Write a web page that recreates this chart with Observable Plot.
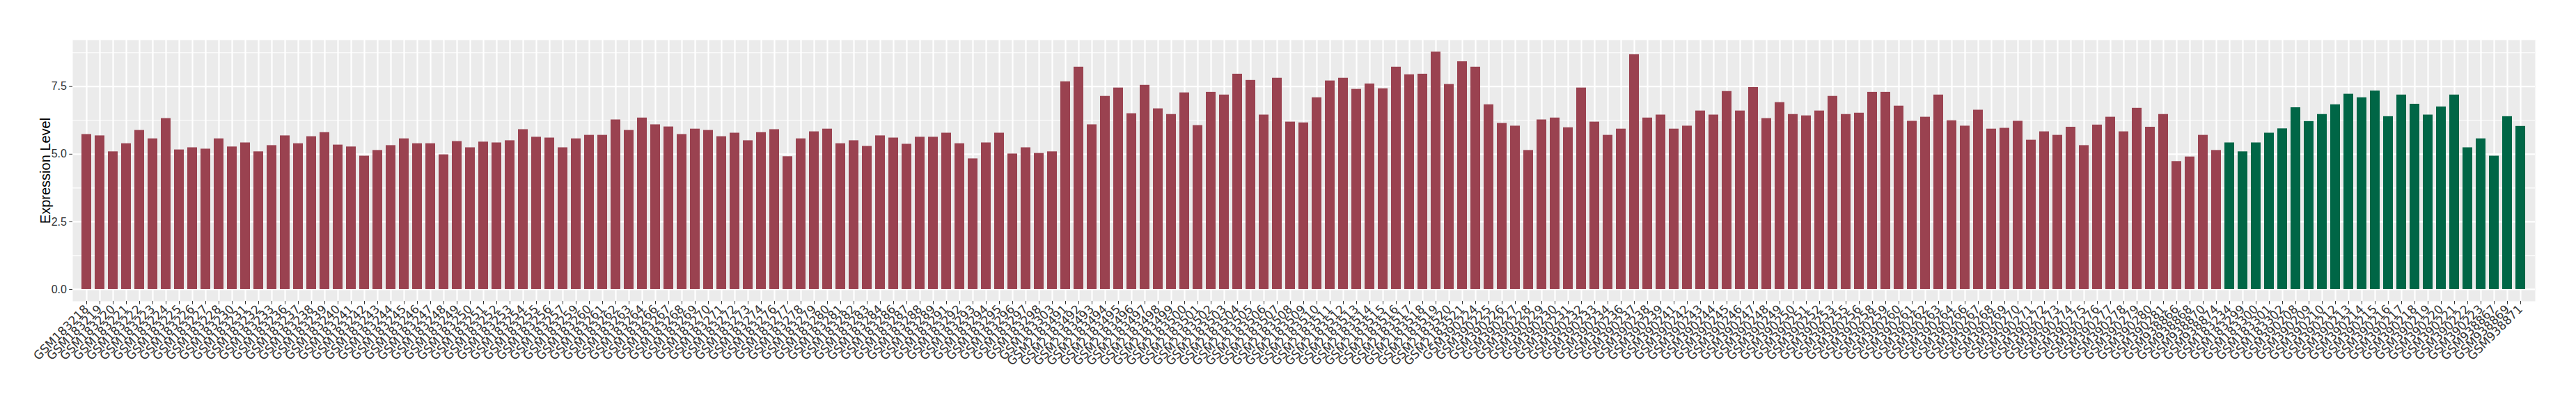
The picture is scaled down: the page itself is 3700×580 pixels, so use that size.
<!DOCTYPE html>
<html>
<head>
<meta charset="utf-8">
<script src="https://cdn.jsdelivr.net/npm/d3@7"></script>
<script src="https://cdn.jsdelivr.net/npm/@observablehq/plot@0.6"></script>
<style>
  html, body { margin: 0; padding: 0; background: #ffffff; }
  #chart { width: 3700px; height: 580px; }
</style>
</head>
<body>
<div id="chart"></div>
<script>
// ---- data ----
const redSamples = [
  "GSM183218","GSM183219","GSM183220","GSM183221","GSM183222","GSM183223","GSM183224","GSM183225","GSM183226","GSM183227","GSM183228",
  "GSM183230","GSM183231","GSM183232","GSM183233",
  "GSM183236","GSM183237","GSM183238","GSM183239","GSM183240","GSM183241","GSM183242","GSM183243","GSM183244","GSM183245","GSM183246",
  "GSM183247","GSM183248","GSM183249","GSM183250","GSM183251","GSM183252","GSM183253","GSM183254","GSM183255","GSM183256","GSM183257",
  "GSM183259","GSM183260","GSM183261","GSM183262","GSM183263","GSM183264",
  "GSM183266","GSM183267","GSM183268","GSM183269","GSM183270","GSM183271","GSM183272","GSM183273","GSM183274",
  "GSM183276","GSM183277","GSM183278","GSM183279","GSM183280","GSM183281","GSM183282","GSM183283","GSM183284",
  "GSM183286","GSM183287","GSM183288","GSM183289",
  "GSM183291","GSM183292","GSM183293","GSM183294","GSM183295","GSM183296","GSM183297","GSM183298","GSM183303",
  "GSM2183491","GSM2183492","GSM2183493","GSM2183494","GSM2183495","GSM2183496","GSM2183497","GSM2183498","GSM2183499","GSM2183500",
  "GSM2183501","GSM2183502","GSM2183503","GSM2183504","GSM2183505","GSM2183506","GSM2183507","GSM2183508","GSM2183509","GSM2183510",
  "GSM2183511","GSM2183512","GSM2183513","GSM2183514","GSM2183515","GSM2183516","GSM2183517","GSM2183518","GSM2183519","GSM2183520","GSM2183521",
  "GSM390224","GSM390225","GSM390226","GSM390227","GSM390228","GSM390229","GSM390230","GSM390231","GSM390232","GSM390233","GSM390234",
  "GSM390236","GSM390237","GSM390238","GSM390239",
  "GSM390241","GSM390242","GSM390243","GSM390244","GSM390245","GSM390246","GSM390247","GSM390248","GSM390249","GSM390250","GSM390251","GSM390252","GSM390253",
  "GSM390255","GSM390256",
  "GSM390258","GSM390259","GSM390260","GSM390261","GSM390262","GSM390263","GSM390264",
  "GSM390266","GSM390267","GSM390268","GSM390269","GSM390270","GSM390271","GSM390272","GSM390273","GSM390274","GSM390275","GSM390276",
  "GSM390277","GSM390278","GSM390279","GSM390280","GSM390281",
  "GSM938866","GSM938868","GSM938870","GSM938874"
];
const redValues = [
  5.73, 5.68, 5.09, 5.39, 5.88, 5.57, 6.32, 5.16, 5.24, 5.19, 5.57, 5.27, 5.42, 5.09, 5.32, 5.68, 5.39, 5.65, 5.80, 5.34,
  5.27, 4.93, 5.14, 5.32, 5.57, 5.39, 5.39, 4.98, 5.47, 5.24, 5.45, 5.42, 5.50, 5.91, 5.63, 5.60, 5.24,
  5.57, 5.70, 5.70, 6.27, 5.88, 6.34, 6.09, 6.01, 5.73, 5.93, 5.88, 5.65, 5.78, 5.50, 5.80, 5.91, 4.91, 5.57, 5.83, 5.93,
  5.39, 5.50, 5.29, 5.68, 5.60, 5.37, 5.63, 5.63, 5.78, 5.39, 4.83, 5.42, 5.78, 5.01, 5.24, 5.03, 5.09,
  7.68, 8.22, 6.09, 7.14, 7.45, 6.50, 7.55, 6.68, 6.47, 7.27, 6.06, 7.29, 7.19, 7.96, 7.73, 6.45, 7.81, 6.19, 6.16, 7.09,
  7.71, 7.81, 7.40, 7.60, 7.42, 8.22, 7.94, 7.96, 8.78, 7.58, 8.42, 8.22, 6.83, 6.14, 6.04, 5.14, 6.27,
  6.34, 5.98, 7.45, 6.19, 5.70, 5.93, 8.68, 6.34, 6.45, 5.93, 6.04, 6.60, 6.45, 7.32, 6.60, 7.47, 6.32, 6.91, 6.47, 6.42,
  6.60, 7.14, 6.47, 6.52, 7.29, 7.29, 6.78, 6.22, 6.37, 7.19, 6.24, 6.04, 6.63, 5.93, 5.96, 6.22, 5.52, 5.83,
  5.70, 6.00, 5.32, 6.08, 6.37, 5.83, 6.70, 6.00, 6.47, 4.73, 4.90, 5.70, 5.14
];
const greenSamples = [
  "GSM183234","GSM183299","GSM183300","GSM183301","GSM183302",
  "GSM390208","GSM390209","GSM390210","GSM390212","GSM390213","GSM390214","GSM390215","GSM390216","GSM390217","GSM390218",
  "GSM390219","GSM390220","GSM390221","GSM390222","GSM390223",
  "GSM938867","GSM938869","GSM938871"
];
const greenValues = [
  5.42, 5.09, 5.42, 5.78, 5.94, 6.72, 6.21, 6.47, 6.83, 7.22, 7.09, 7.34, 6.39, 7.19, 6.85,
  6.45, 6.75, 7.19, 5.24, 5.57, 4.93, 6.39, 6.03
];
const yMajorTicks = [0, 2.5, 5, 7.5];
const yMinorTicks = [1.25, 3.75, 6.25, 8.75];
const yTitle = "Expression Level";

// ---- build ----
const redData = redSamples.map((s, i) => ({sample: s, value: redValues[i]}));
const greenData = greenSamples.map((s, i) => ({sample: s, value: greenValues[i]}));
const allSamples = [...redSamples, ...greenSamples];
const maxV = d3.max([...redValues, ...greenValues]);

const fontFamily = "'Liberation Sans', Arial, Helvetica, sans-serif";

const chart = Plot.plot({
  width: 3700,
  height: 580,
  marginLeft: 104,
  marginRight: 59,
  marginTop: 57,
  marginBottom: 148,
  style: {background: "#ffffff", fontFamily, color: "#4D4D4D", overflow: "visible"},
  x: {type: "band", domain: allSamples, paddingInner: 0.26, paddingOuter: 0.23, axis: null},
  y: {domain: [-0.05 * maxV, 1.05 * maxV], axis: null},
  marks: [
    Plot.frame({fill: "#EBEBEB", stroke: "none"}),
    Plot.gridY(yMinorTicks, {stroke: "#ffffff", strokeOpacity: 1, strokeWidth: 1.1}),
    Plot.gridY(yMajorTicks, {stroke: "#ffffff", strokeOpacity: 1, strokeWidth: 2.2}),
    Plot.gridX({stroke: "#ffffff", strokeOpacity: 1, strokeWidth: 2.2}),
    Plot.barY(redData, {x: "sample", y: "value", fill: "#9A4250"}),
    Plot.barY(greenData, {x: "sample", y: "value", fill: "#006646"}),
    Plot.axisY(yMajorTicks, {
      tickFormat: d => d.toFixed(1), tickSize: 4.75, tickPadding: 3.8,
      fontSize: 16, label: null, stroke: "#333333", fill: "#333333"
    }),
    Plot.axisX({
      tickRotate: -45, tickSize: 4.75, tickPadding: 3.8,
      fontSize: 17, fontFamily: "'DejaVu Sans', sans-serif",
      label: null, stroke: "#333333", fill: "#333333"
    }),
    Plot.text([yTitle], {
      frameAnchor: "left", textAnchor: "middle", rotate: -90, dx: -39, fontSize: 20,
      fill: "#000000", text: d => d
    })
  ]
});
document.getElementById("chart").appendChild(chart);
</script>
</body>
</html>
